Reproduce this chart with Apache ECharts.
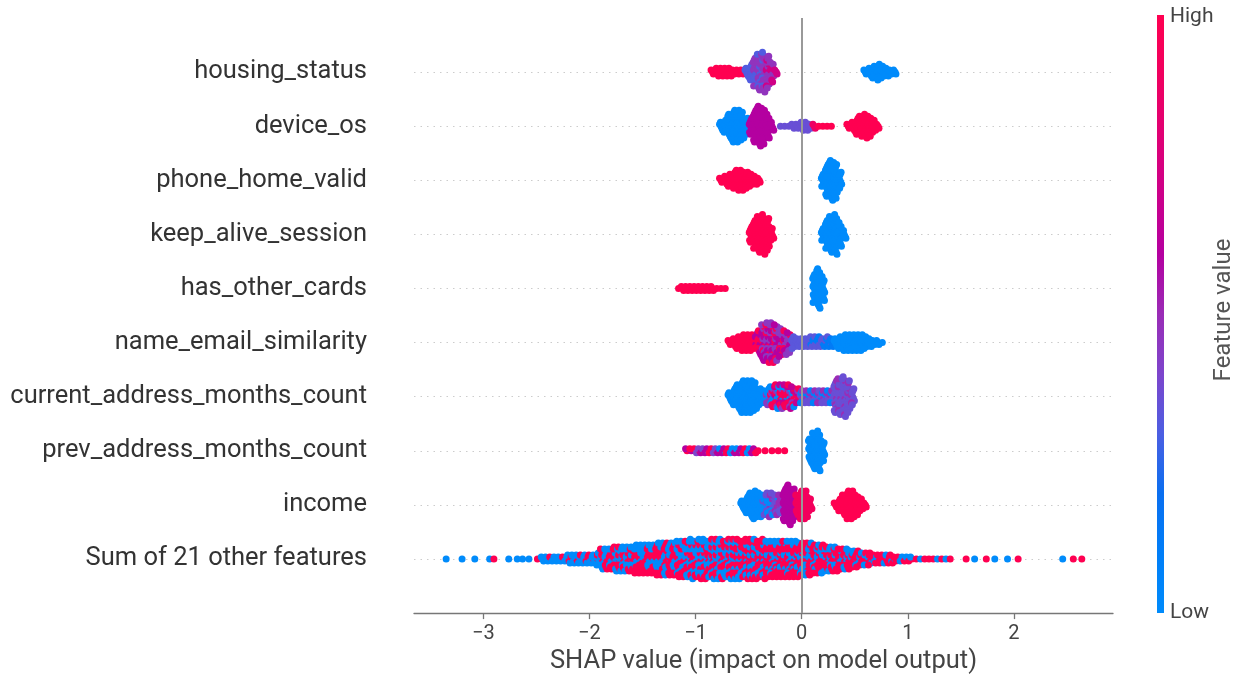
<!DOCTYPE html>
<html>
<head>
<meta charset="utf-8">
<script src="https://cdn.jsdelivr.net/npm/echarts@6/dist/echarts.min.js"></script>
<style>html,body{margin:0;padding:0;background:#fff}#c{width:1240px;height:680px}</style>
</head>
<body>
<div id="c"></div>
<script>
// Feature rows, bottom (0) to top (9)
const features = ['Sum of 21 other features','income','prev_address_months_count','current_address_months_count',
  'name_email_similarity','has_other_cards','keep_alive_session','phone_home_valid','device_os','housing_status'];
const xTicks = [-3,-2,-1,0,1,2];

// Each run: [first SHAP value, feature value (0 low .. 1 high), dot counts per 0.04-wide SHAP bin]
const housingStatus = [
  [-0.84, 1, [3,5,5,5,5,3,3,3]],
  [-0.52, 0.31, [5,9,7,5,5]],
  [-0.44, 0.47, [8,14,16,12,6]],
  [-0.32, 0.72, [5,5,3]],
  [0.60, 0, [3,5,7,9,7,5,3,3]]
];
const deviceOs = [
  [-0.76, 0, [5,7,13,17,17,15,9]],
  [-0.48, 0.6, [9,17,21,19,13,5]],
  [-0.20, 0.36, [1,1,1,3,3,5,5,3]],
  [0.12, 0.88, [3]],
  [0.16, 1, [1,1,1,1]],
  [0.44, 1, [3,5,9,11,13,11,7,3]]
];
const phoneHomeValid = [
  [-0.76, 1, [3,5,7,9,11,11,9,7,5,3]],
  [0.20, 0, [7,17,21,19,9]]
];
const keepAliveSession = [
  [-0.48, 1, [9,15,19,21,17,7]],
  [0.20, 0, [7,15,19,21,13,5]]
];
const hasOtherCards = [
  [-1.16, 1, [1,3,3,3,3,3,3,3,3,1,1,1]],
  [0.12, 0, [15,21,13]]
];
const nameEmailSimilarity = [
  [-0.68, 1, [3,5,7,9,9,9,5,4]],
  [-0.44, 0.6, [2,6,10,10,10,9,6,5,4]],
  [-0.40, 0.95, [3,4,5,5,4,3,3,2]],
  [-0.36, 0.45, [5,6,6,6,6,5,5]],
  [-0.08, 0.33, [7,5,5,5,5,4,3,2,2,1]],
  [0.08, 0.12, [1,2,3,3,4,4]],
  [0.32, 0, [5,7,9,9,9,9,9,7,5,3,3,1]]
];
const currentAddressMonthsCount = [
  [-0.68, 0, [5,9,13,17,17,17,15,9,7,5,4,4,3,2,2,2]],
  [-0.32, 0.45, [4,3,2,2,2,2,2,2,2]],
  [-0.28, 0.95, [4,5,6,6,6,5,4]],
  [-0.24, 0.65, [2,2,2,3,2,2]],
  [0.00, 0.36, [3,3,3,3,3,3,3,3]],
  [0.00, 0.08, [2,2,2,2,2,2,2,2]],
  [0.04, 0.5, [2,2,2,2,2,2,2]],
  [0.32, 0.36, [13,15,17,13,7]],
  [0.32, 0.5, [4,4,4,4,2]]
];
const prevAddressMonthsCount = [
  [-1.08, 1, [1,1,1,1,1,1,1,1,1,1,1,1,1,1,1,1,2]],
  [-1.08, 0.6, [1,1,1,1,1,1,1,1,1,1,1,1,1,1,1,1,1]],
  [-1.00, 0.4, [1,1,1,1,1,1]],
  [-0.76, 0, [1,1,1,1,1,1,1,1]],
  [-0.41, 1, [1]], [-0.345, 1, [1]], [-0.28, 1, [1]], [-0.22, 1, [1]], [-0.16, 1, [1]],
  [0.08, 0, [13,19,21,11]]
];
const income = [
  [-0.56, 0, [5,9,13,15,13,9,7,4,2]],
  [-0.40, 0.36, [0,2,4,5,5,4]],
  [-0.32, 0.5, [2,3,4,6]],
  [-0.16, 0.6, [17,21,17]],
  [-0.04, 0.92, [11,15,15,7]],
  [0.32, 1, [3,7,11,15,15,11,7,3]]
];
const sumOtherFeatures = [
  [-3.35, 0, [1]], [-3.20, 0, [1]], [-3.08, 0, [1]], [-2.94, 0, [1]], [-2.90, 1, [1]],
  [-2.76, 0, [1]], [-2.68, 0, [1]], [-2.63, 0, [1]], [-2.57, 0, [1]], [-2.49, 1, [1]],
  [-2.44, 0, [3,3,2,3,3,2,4,4,3,4,4,3,4,5]],
  [-2.44, 1, [0,0,1,0,0,1,1,1,2,1,1,2,1,2]],
  [-1.88, 0, [5,5,5, 6,6,6,6,6, 7,7,7,7,7, 8,8,8,8,8, 9,9,9, 10, 9, 10,10, 9, 10,10,10, 9, 10,10,10, 8, 9,9,9, 8, 9, 8,
              7,7,7,7,7,7,7, 6,6,6, 5,5,5, 4,4,4, 4,4,4, 3,3, 2,2,2, 1,1,1,1,1, 1,1,1,1]],
  [-1.88, 1, [6,6,6, 7,7,7,7,7, 8,8,8,8,8, 9,9,9,9,9, 10,10,10, 11, 10, 11,11, 10, 11,11,11, 10, 11,11,11, 11, 12,12,12, 11, 12, 11,
              12,12,12,12,12,12,12, 11,11,11, 10,10,10, 9,9,9, 7,7,7, 6,6, 5,5,5, 4,4,4,4,4, 2,2,2,2]],
  [1.04, 1, [1,1,0,1,1,1,0,1,0,1]],
  [1.04, 0, [1,0,1,0,0,0,1,0,1,0]],
  [1.55, 1, [1]], [1.63, 0, [1]], [1.74, 1, [1]], [1.82, 0, [1]], [1.94, 0, [1]], [2.04, 1, [1]],
  [2.46, 0, [1]], [2.56, 1, [1]], [2.64, 1, [1]]
];
const rowRuns = [sumOtherFeatures, income, prevAddressMonthsCount, currentAddressMonthsCount, nameEmailSimilarity,
  hasOtherCards, keepAliveSession, phoneHomeValid, deviceOs, housingStatus];

// red_blue colour scale, low -> high
const colorScale = ['#008bfb','#007ef8','#0a6ff0','#4c5ee2','#7d45cc','#9a2cb6','#b400a0','#cc008a','#e00074','#f0005f','#ff0051'];

const BIN = 0.04;        // SHAP bin width
const LAYER = 0.0367;    // vertical swarm step, in row units
const frac = v => v - Math.floor(v);
function swarm(runs, row) {
  const bins = new Map();
  runs.forEach(([x0, c, counts]) => counts.forEach((n, i) => {
    const x = +(x0 + i * BIN).toFixed(3);
    if (!bins.has(x)) bins.set(x, []);
    for (let k = 0; k < n; k++) bins.get(x).push(c);
  }));
  const pts = [];
  let b = 0;
  bins.forEach((cols, x) => {
    // deterministic low-discrepancy ordering of the bin's dots (layout only)
    const order = cols.map((c, j) => ({c, key: frac(j * 0.618034 + b * 0.754877)}))
      .sort((p, q) => p.key - q.key);
    order.forEach((p, k) => {
      const layer = Math.ceil(k / 2), sign = k % 2 ? 1 : -1;
      const dx = cols.length > 1 ? (frac(k * 0.618034 + 0.5) - 0.5) * BIN * 0.9 : 0;
      pts.push([x + dx, row + sign * layer * LAYER, p.c]);
    });
    b++;
  });
  return pts;
}
const points = [];
rowRuns.forEach((runs, row) => points.push(...swarm(runs, row)));

const chart = echarts.init(document.getElementById('c'), null, {renderer: 'canvas'});
const FONT = 'Roboto';
chart.setOption({
  animation: false,
  backgroundColor: '#fff',
  grid: {left: 414, right: 127, top: 18, bottom: 65},
  xAxis: {
    type: 'value', min: -3.653, max: 2.934,
    name: 'SHAP value (impact on model output)', nameLocation: 'middle', nameGap: 33,
    nameTextStyle: {fontFamily: FONT, fontSize: 25.5, color: '#444'},
    axisLine: {show: true, onZero: false, lineStyle: {color: '#777', width: 1.3}},
    axisTick: {show: true, customValues: xTicks, length: 6, lineStyle: {color: '#777', width: 1.3}},
    axisLabel: {customValues: xTicks, margin: 11, fontFamily: FONT, fontSize: 20, color: '#444',
      formatter: v => v < 0 ? '\u2212' + Math.abs(v) : String(v)},
    splitLine: {show: false}
  },
  yAxis: {
    type: 'value', min: -1, max: 10, interval: 1,
    axisLine: {show: false}, axisTick: {show: false},
    axisLabel: {margin: 47, fontFamily: FONT, fontSize: 25.5, color: '#333', padding: [4, 0, 0, 0],
      formatter: v => (v >= 0 && v < features.length) ? features[v] : ''},
    splitLine: {show: true, showMinLine: false, showMaxLine: false,
      lineStyle: {color: '#cccccc', width: 1, type: [1.5, 5]}}
  },
  visualMap: {
    show: false, type: 'continuous', dimension: 2, min: 0, max: 1, seriesIndex: 0,
    inRange: {color: colorScale}
  },
  series: [{
    type: 'scatter', data: points, symbolSize: 7, z: 2,
    itemStyle: {opacity: 1}, silent: true
  }, {
    type: 'line', data: [], z: 5, silent: true,
    markLine: {silent: true, symbol: 'none', label: {show: false},
      lineStyle: {color: '#999', width: 2, type: 'solid'},
      data: [{xAxis: 0}]}
  }],
  graphic: [
    {type: 'rect', left: 1157, top: 15, shape: {width: 7, height: 598},
      style: {fill: new echarts.graphic.LinearGradient(0, 0, 0, 1,
        colorScale.slice().reverse().map((c, i, a) => ({offset: i / (a.length - 1), color: c})))}},
    {type: 'text', x: 1170, y: 17, style: {text: 'High', fontFamily: FONT, fontSize: 21, fill: '#444', textVerticalAlign: 'middle'}},
    {type: 'text', x: 1170, y: 613, style: {text: 'Low', fontFamily: FONT, fontSize: 21, fill: '#444', textVerticalAlign: 'middle'}},
    {type: 'text', x: 1224, y: 310, rotation: Math.PI / 2,
      style: {text: 'Feature value', fontFamily: FONT, fontSize: 24, fill: '#555', textAlign: 'center', textVerticalAlign: 'middle'}}
  ]
});
</script>
</body>
</html>
